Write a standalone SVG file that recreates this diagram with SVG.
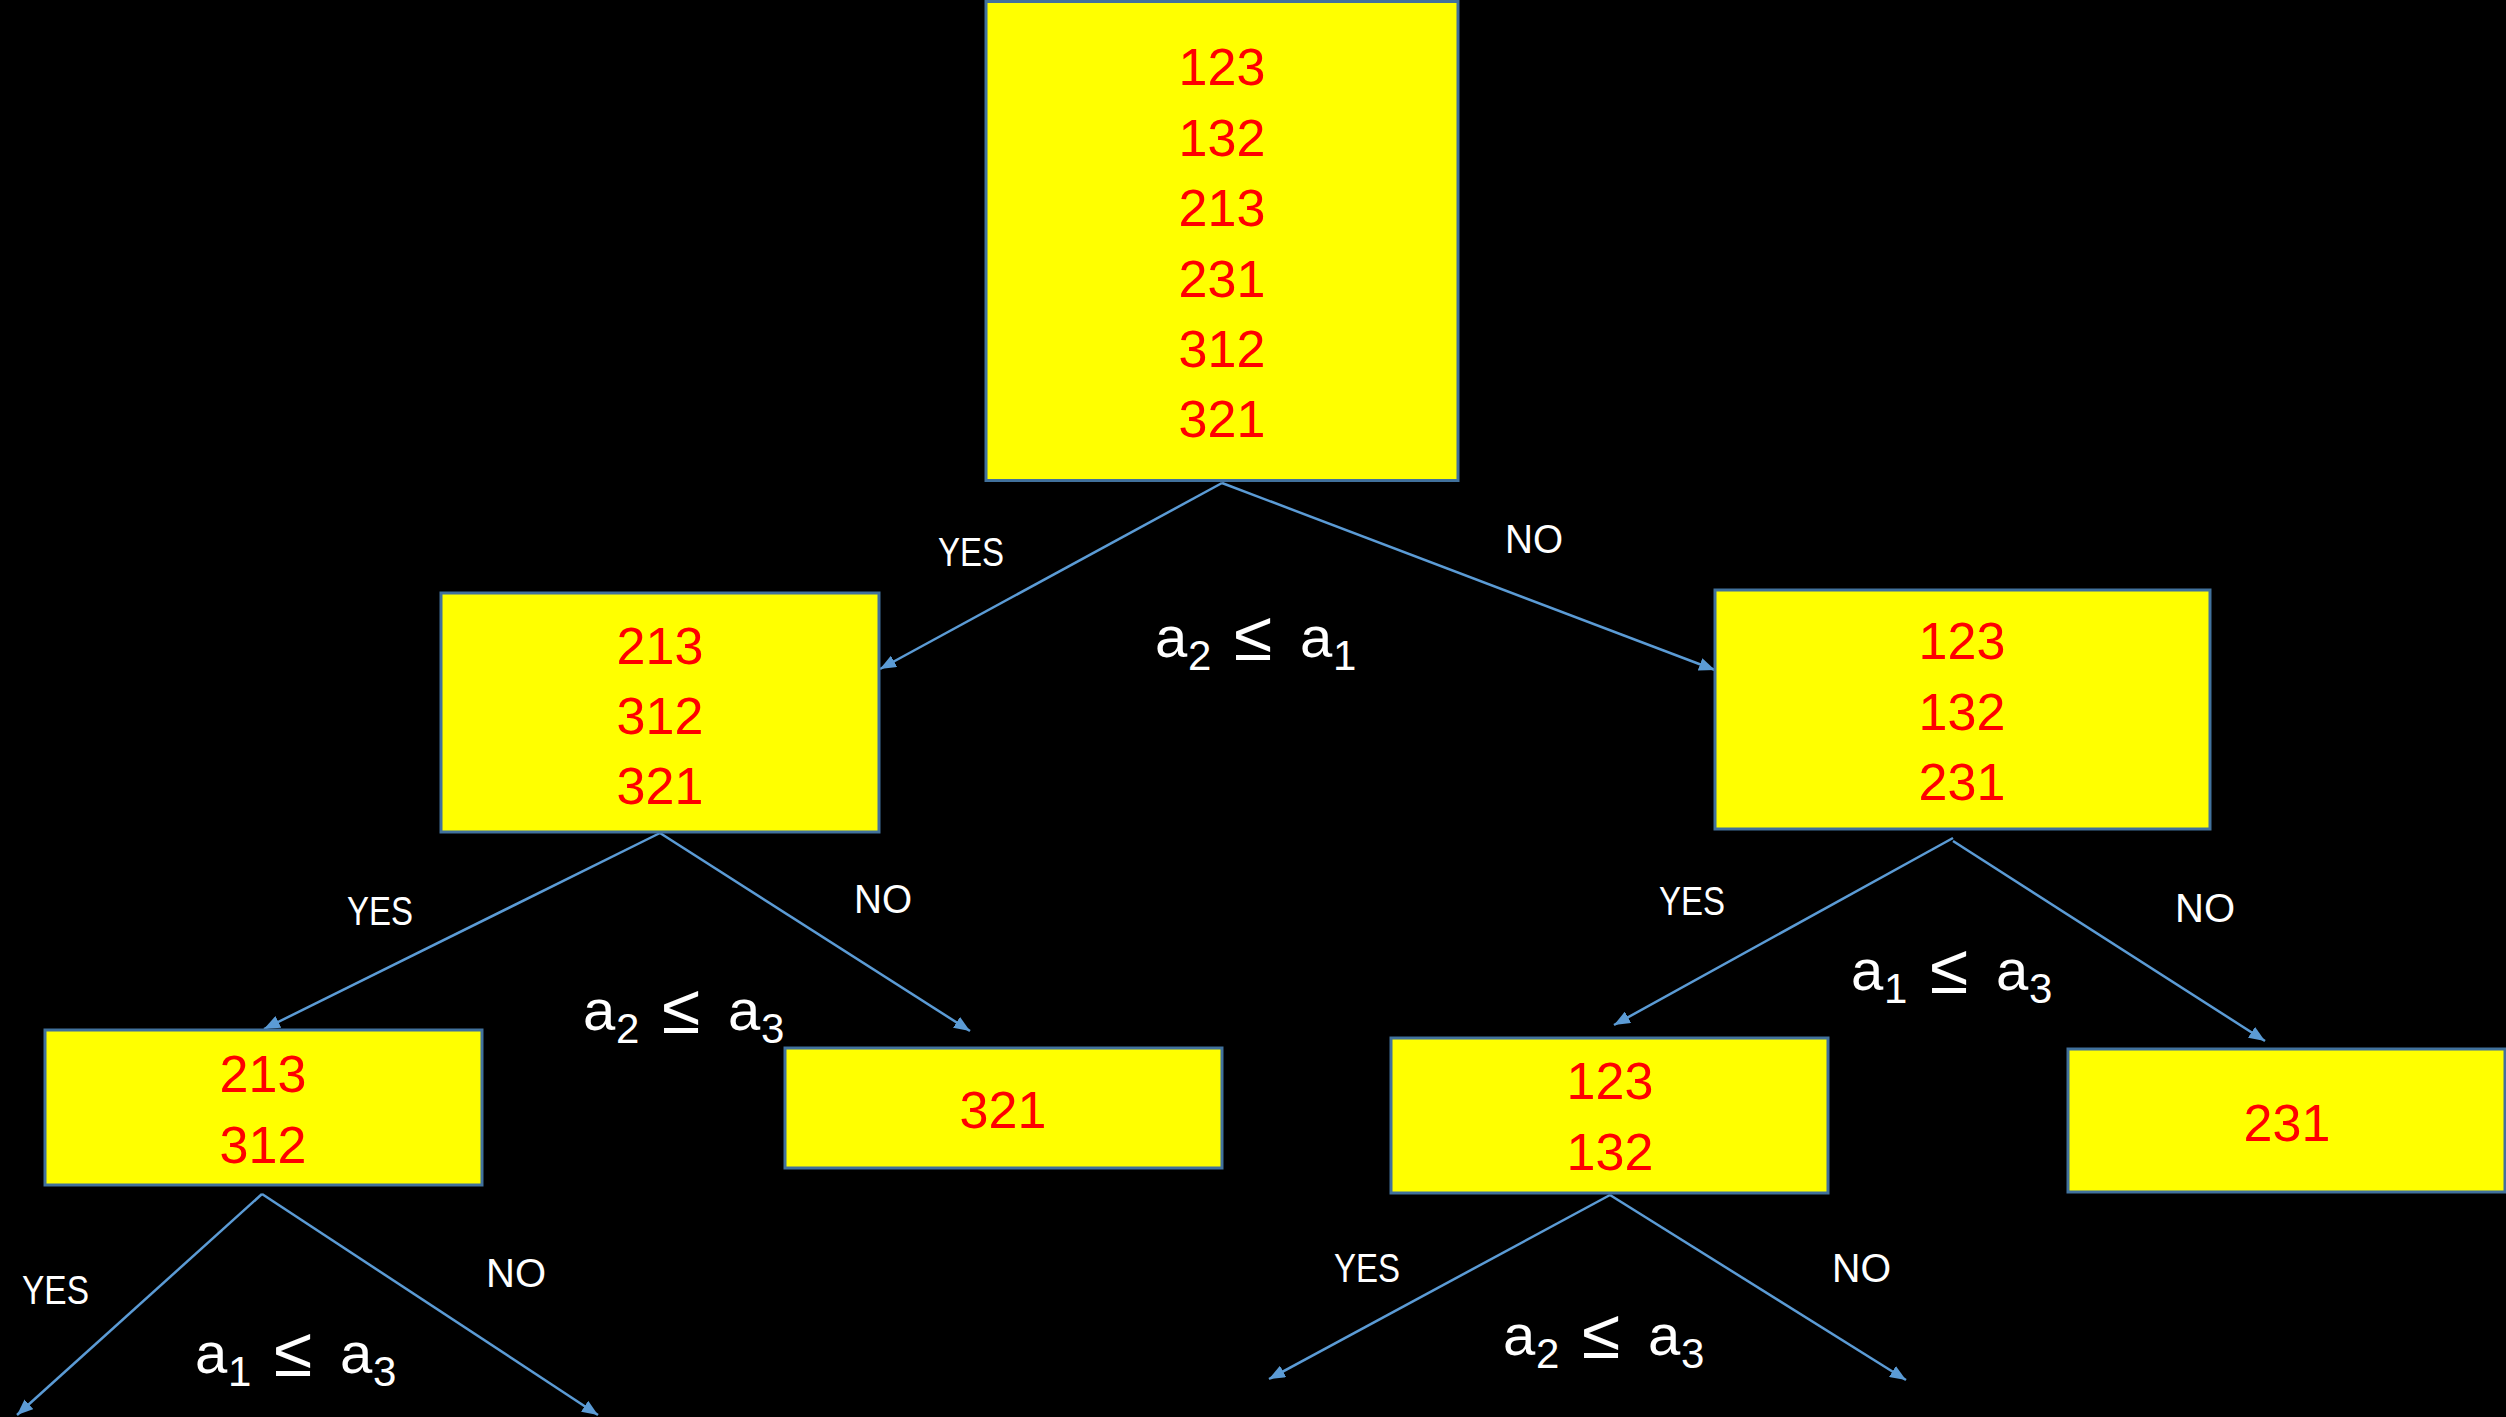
<svg xmlns="http://www.w3.org/2000/svg" width="2506" height="1417" viewBox="0 0 2506 1417">
<defs>
<marker id="arr" markerUnits="userSpaceOnUse" markerWidth="17" markerHeight="13" refX="16" refY="6.5" orient="auto">
<path d="M0,0 L16,6.5 L0,13 z" fill="#5B9BD5"/>
</marker>
<style>
.box{fill:#FFFF00;stroke:#41719C;stroke-width:3}
.num{font-family:"Liberation Sans",Arial,sans-serif;font-size:52px;fill:#FF0000;text-anchor:middle}
.lbl{font-family:"Liberation Sans",Arial,sans-serif;font-size:41px;fill:#FFFFFF}
.math{font-family:"Liberation Sans",Arial,sans-serif;font-size:58px;fill:#FFFFFF}
.sub{font-size:42px}
.le{font-size:70px}
.con{stroke:#5B9BD5;stroke-width:2.5;fill:none;marker-end:url(#arr)}
</style>
</defs>
<rect x="0" y="0" width="2506" height="1417" fill="#000000"/>

<g id="connectors">
<path class="con" d="M1222,483 L880,669"/>
<path class="con" d="M1222,483 L1715,670"/>
<path class="con" d="M660,833 L264,1029"/>
<path class="con" d="M660,833 L970,1031"/>
<path class="con" d="M1953,838 L1614,1025"/>
<path class="con" d="M1953,841 L2265,1041"/>
<path class="con" d="M262,1194 L17,1415"/>
<path class="con" d="M262,1194 L598,1415"/>
<path class="con" d="M1610,1195 L1269,1379"/>
<path class="con" d="M1610,1195 L1906,1380"/>
</g>

<g id="root">
<rect class="box" x="986" y="1.5" width="472" height="479"/>
<text class="num" x="1222" y="85">123</text>
<text class="num" x="1222" y="156">132</text>
<text class="num" x="1222" y="226">213</text>
<text class="num" x="1222" y="297">231</text>
<text class="num" x="1222" y="367">312</text>
<text class="num" x="1222" y="437">321</text>
</g>

<g id="node-left">
<rect class="box" x="441" y="593" width="438" height="239"/>
<text class="num" x="660" y="664">213</text>
<text class="num" x="660" y="734">312</text>
<text class="num" x="660" y="804">321</text>
</g>

<g id="node-right">
<rect class="box" x="1715" y="590" width="495" height="239"/>
<text class="num" x="1962" y="659">123</text>
<text class="num" x="1962" y="730">132</text>
<text class="num" x="1962" y="800">231</text>
</g>

<g id="node-ll">
<rect class="box" x="45" y="1030" width="437" height="155"/>
<text class="num" x="263" y="1092">213</text>
<text class="num" x="263" y="1163">312</text>
</g>

<g id="node-lr">
<rect class="box" x="785" y="1048" width="437" height="120"/>
<text class="num" x="1003" y="1128">321</text>
</g>

<g id="node-rl">
<rect class="box" x="1391" y="1038" width="437" height="155"/>
<text class="num" x="1610" y="1099">123</text>
<text class="num" x="1610" y="1170">132</text>
</g>

<g id="node-rr">
<rect class="box" x="2068" y="1049" width="437" height="143"/>
<text class="num" x="2287" y="1141">231</text>
</g>

<g id="labels">
<text class="lbl" x="938" y="566" textLength="66" lengthAdjust="spacingAndGlyphs">YES</text>
<text class="lbl" x="1505" y="553" textLength="58" lengthAdjust="spacingAndGlyphs">NO</text>
<text class="lbl" x="347" y="925" textLength="66" lengthAdjust="spacingAndGlyphs">YES</text>
<text class="lbl" x="854" y="913" textLength="58" lengthAdjust="spacingAndGlyphs">NO</text>
<text class="lbl" x="1659" y="915" textLength="66" lengthAdjust="spacingAndGlyphs">YES</text>
<text class="lbl" x="2175" y="922" textLength="60" lengthAdjust="spacingAndGlyphs">NO</text>
<text class="lbl" x="22" y="1304" textLength="67" lengthAdjust="spacingAndGlyphs">YES</text>
<text class="lbl" x="486" y="1287" textLength="60" lengthAdjust="spacingAndGlyphs">NO</text>
<text class="lbl" x="1334" y="1282" textLength="66" lengthAdjust="spacingAndGlyphs">YES</text>
<text class="lbl" x="1832" y="1282" textLength="59" lengthAdjust="spacingAndGlyphs">NO</text>

<text class="math"><tspan x="1155" y="657">a</tspan><tspan class="sub" x="1188" y="670">2</tspan><tspan class="le" x="1234" y="660">≤</tspan><tspan x="1300" y="657">a</tspan><tspan class="sub" x="1333" y="670">1</tspan></text>
<text class="math"><tspan x="583" y="1030">a</tspan><tspan class="sub" x="616" y="1043">2</tspan><tspan class="le" x="662" y="1033">≤</tspan><tspan x="728" y="1030">a</tspan><tspan class="sub" x="761" y="1043">3</tspan></text>
<text class="math"><tspan x="1851" y="990">a</tspan><tspan class="sub" x="1884" y="1003">1</tspan><tspan class="le" x="1930" y="993">≤</tspan><tspan x="1996" y="990">a</tspan><tspan class="sub" x="2029" y="1003">3</tspan></text>
<text class="math"><tspan x="195" y="1373">a</tspan><tspan class="sub" x="228" y="1386">1</tspan><tspan class="le" x="274" y="1376">≤</tspan><tspan x="340" y="1373">a</tspan><tspan class="sub" x="373" y="1386">3</tspan></text>
<text class="math"><tspan x="1503" y="1355">a</tspan><tspan class="sub" x="1536" y="1368">2</tspan><tspan class="le" x="1582" y="1358">≤</tspan><tspan x="1648" y="1355">a</tspan><tspan class="sub" x="1681" y="1368">3</tspan></text>
</g>
</svg>
